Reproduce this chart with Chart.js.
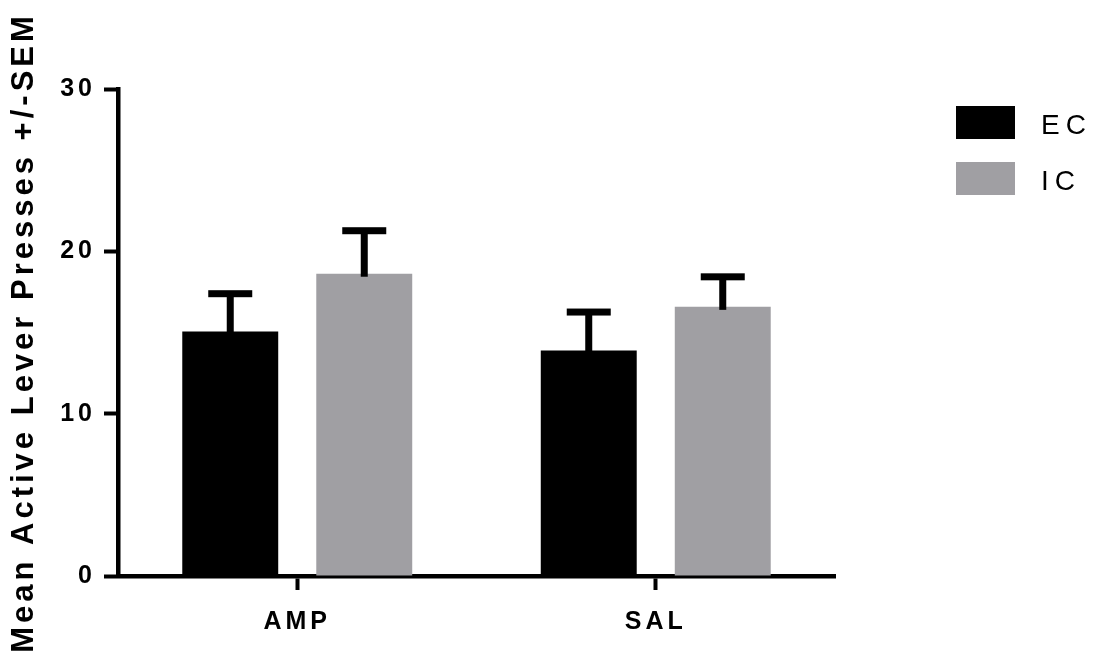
<!DOCTYPE html>
<html lang="en">
<head>
<meta charset="UTF-8">
<script src="https://cdn.jsdelivr.net/npm/chart.js"></script>
<title>Mean active lever presses</title>
<style>
  body { margin: 0; background: #fff; }
  canvas { display: block; }
</style>
</head>
<body>
<canvas id="myChart" width="1097" height="666"></canvas>
<script>
// data
const groups = ['AMP', 'SAL'];
const seriesNames = ['EC', 'IC'];
const ecMeans = [15.06, 13.89];
const ecSem = [2.33, 2.37];
const icMeans = [18.62, 16.58];
const icSem = [2.65, 1.85];
const yTicks = [0, 10, 20, 30];

const fam = '"Liberation Sans", Arial, sans-serif';

// letter spacing for every text, the original is spaced out
const spacing = {
  id: 'spacing',
  beforeDraw(chart) {
    chart.ctx.letterSpacing = '4px';
  }
};

// +SEM error bars (upper only)
const errorBars = {
  id: 'errorBars',
  afterDatasetsDraw(chart) {
    const ctx = chart.ctx;
    const y = chart.scales.y;
    const sems = [ecSem, icSem];
    ctx.save();
    ctx.fillStyle = '#000';
    chart.data.datasets.forEach(function (ds, i) {
      const meta = chart.getDatasetMeta(i);
      meta.data.forEach(function (bar, j) {
        const top = y.getPixelForValue(ds.data[j] + sems[i][j]);
        const base = y.getPixelForValue(ds.data[j]);
        ctx.fillRect(bar.x - 3.5, top, 7, base - top + 3);
        ctx.fillRect(bar.x - 22, top - 3.5, 44, 7);
      });
    });
    ctx.restore();
  }
};

// legend drawn by hand to the right of the plot
const sideLegend = {
  id: 'sideLegend',
  afterDraw(chart) {
    const ctx = chart.ctx;
    const x0 = chart.chartArea.right + 121;
    ctx.save();
    ctx.letterSpacing = '6px';
    ctx.font = '28px ' + fam;
    ctx.textBaseline = 'middle';
    chart.data.datasets.forEach(function (ds, i) {
      const yTop = 106 + i * 56;
      ctx.fillStyle = ds.backgroundColor;
      ctx.fillRect(x0, yTop, 59, 33);
      ctx.fillStyle = '#000';
      ctx.fillText(ds.label, x0 + 85, yTop + 20);
    });
    ctx.restore();
  }
};

const dados = {
  labels: groups,
  datasets: [
    { label: seriesNames[0], data: ecMeans, backgroundColor: '#000000' },
    { label: seriesNames[1], data: icMeans, backgroundColor: '#a09fa3' }
  ]
};

const config = {
  type: 'bar',
  data: dados,
  options: {
    responsive: false,
    animation: false,
    devicePixelRatio: 1,
    categoryPercentage: 0.7476,
    barPercentage: 0.716,
    layout: { padding: { top: 89, right: 262, left: 0, bottom: 0 } },
    plugins: {
      legend: { display: false },
      tooltip: { enabled: false }
    },
    scales: {
      x: {
        offset: true,
        afterFit: function (s) { s.height = 90; },
        grid: {
          offset: false,
          drawOnChartArea: false,
          drawTicks: true,
          tickLength: 14,
          tickWidth: 4,
          color: '#000'
        },
        border: { display: true, width: 4.5, color: '#000' },
        ticks: {
          color: '#000',
          padding: 17,
          font: { family: fam, size: 25, weight: 'bold' }
        }
      },
      y: {
        min: 0,
        max: 30,
        afterFit: function (s) { s.width = 118; },
        afterBuildTicks: function (s) {
          s.ticks = yTicks.map(function (v) { return { value: v }; });
        },
        grid: {
          drawOnChartArea: false,
          drawTicks: true,
          tickLength: 14,
          tickWidth: 4,
          color: '#000'
        },
        border: { display: true, width: 4.5, color: '#000' },
        ticks: {
          color: '#000',
          padding: 8,
          font: { family: fam, size: 25, weight: 'bold' }
        },
        title: {
          display: true,
          text: 'Mean Active Lever Presses +/-SEM',
          color: '#000',
          padding: { top: 6, bottom: 0 },
          font: { family: fam, size: 31, weight: 'bold' }
        }
      }
    }
  },
  plugins: [spacing, errorBars, sideLegend]
};

let myChart = new Chart(document.getElementById('myChart'), config);
</script>
</body>
</html>
